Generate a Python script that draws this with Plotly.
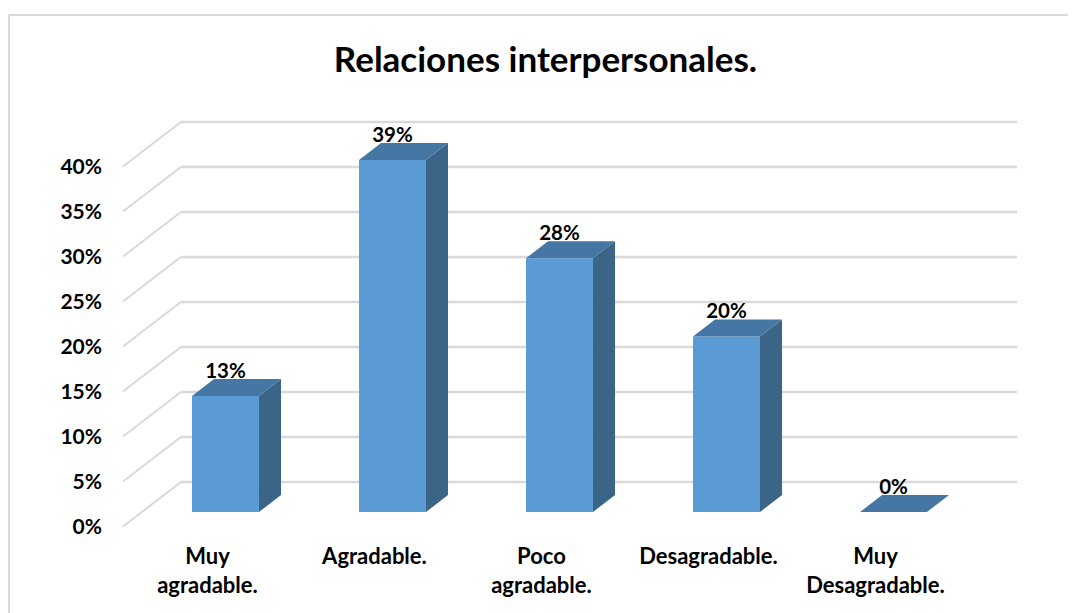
"""Relaciones interpersonales: columnas con aspecto 3D sobre ejes de Plotly."""

import plotly.graph_objects as go

# datos
categorias = ["Muy<br>agradable.", "Agradable.", "Poco<br>agradable.", "Desagradable.", "Muy<br>Desagradable."]
valores = [12.9, 39.1, 28.2, 19.5, 0]
etiquetas = ["13%", "39%", "28%", "20%", "0%"]
ticks_y = [0, 5, 10, 15, 20, 25, 30, 35, 40]
ticks_texto = ["0%", "5%", "10%", "15%", "20%", "25%", "30%", "35%", "40%"]

FUENTE = "Lato"
COL_FRENTE = "#5B9BD5"
COL_LADO = "#3A6587"
COL_TECHO = "#4676A3"
COL_GRID = "#D9D9D9"

# escala: 167 px por categoria, 9 px por punto porcentual
ANCHO = 0.401
DX, DY = 0.132, 1.89       # fondo de cada columna
PARED_DX, PARED_DY = 0.347, 4.94  # fondo de la pared
SUELO = -1.61              # linea 0% frontal respecto a la base de las columnas
X_FRENTE = -0.614
X_FIN = 4.74

fig = go.Figure()

xs = list(range(len(valores)))
fig.add_trace(go.Bar(x=xs, y=valores, width=ANCHO, marker=dict(color=COL_FRENTE, line_width=0), hoverinfo="skip"))

# cara lateral y techo de cada columna
for x, v in zip(xs, valores):
    izq, der = x - ANCHO / 2, x + ANCHO / 2
    if v > 0:
        fig.add_trace(go.Scatter(
            x=[der, der + DX, der + DX, der, der],
            y=[0, DY, v + DY, v, 0],
            fill="toself", fillcolor=COL_LADO, mode="none", hoverinfo="skip",
        ))
    fig.add_trace(go.Scatter(
        x=[izq, izq + DX, der + DX, der, izq],
        y=[v, v + DY, v + DY, v, v],
        fill="toself", fillcolor=COL_TECHO, mode="none", hoverinfo="skip",
    ))

fig.add_trace(go.Scatter(
    x=xs,
    y=[v + 2.6 for v in valores],
    mode="text",
    text=etiquetas,
    textposition="middle center",
    textfont=dict(family=FUENTE, size=20.5, color="#000000", weight="bold"),
    hoverinfo="skip",
))

# traza invisible para que se dibuje el eje de las etiquetas
fig.add_trace(go.Scatter(x=[0], y=[0], yaxis="y2", mode="none", hoverinfo="skip"))

# rejilla: diagonal en el lateral y linea en la pared del fondo
formas = []
for t in ticks_y:
    y0 = t + SUELO
    y_fondo = y0 + PARED_DY
    formas.append(dict(
        type="line", xref="x", yref="y", layer="below",
        x0=X_FRENTE, y0=y0, x1=X_FRENTE + PARED_DX, y1=y_fondo,
        line=dict(color=COL_GRID, width=2),
    ))
    formas.append(dict(
        type="line", xref="x", yref="y", layer="below",
        x0=X_FRENTE + PARED_DX, y0=y_fondo, x1=X_FIN, y1=y_fondo,
        line=dict(color=COL_GRID, width=2.5),
    ))

# marco del grafico (solo izquierda y arriba llegan a verse)
formas.append(dict(type="line", xref="paper", yref="paper", x0=-0.0966, y0=-0.14, x1=-0.0966, y1=0.987,
                   line=dict(color=COL_GRID, width=2)))
formas.append(dict(type="line", xref="paper", yref="paper", x0=-0.0966, y0=0.987, x1=1, y1=0.987,
                   line=dict(color=COL_GRID, width=2)))

# la pagina deja 8 px de margen, por eso la figura mide 1068x605
fig.update_layout(
    width=1068,
    height=605,
    margin=dict(l=95, r=0, t=0, b=72),
    paper_bgcolor="#FFFFFF",
    plot_bgcolor="rgba(0,0,0,0)",
    showlegend=False,
    shapes=formas,
    title=dict(
        text="<b>Relaciones interpersonales.</b>",
        x=0.5033, xanchor="center", xref="container",
        y=0.914, yanchor="middle", yref="container",
        font=dict(family=FUENTE, size=35, color="#000000"),
    ),
    xaxis=dict(
        range=[-0.7335, 5.0928],
        tickmode="array",
        tickvals=[x - 0.108 for x in xs],
        ticktext=categorias,
        showgrid=False,
        zeroline=False,
        showline=False,
        ticks="",
        tickangle=0,
        tickfont=dict(family=FUENTE, size=22, color="#000000", weight="bold"),
    ),
    yaxis=dict(range=[-3.22, 56], visible=False),
    yaxis2=dict(
        overlaying="y",
        side="left",
        range=[-1.61, 57.61],
        tickmode="array",
        tickvals=ticks_y,
        ticktext=ticks_texto,
        showgrid=False,
        zeroline=False,
        showline=False,
        ticks="",
        tickfont=dict(family=FUENTE, size=21, color="#000000", weight="bold"),
    ),
)

fig.write_html("out.html")
